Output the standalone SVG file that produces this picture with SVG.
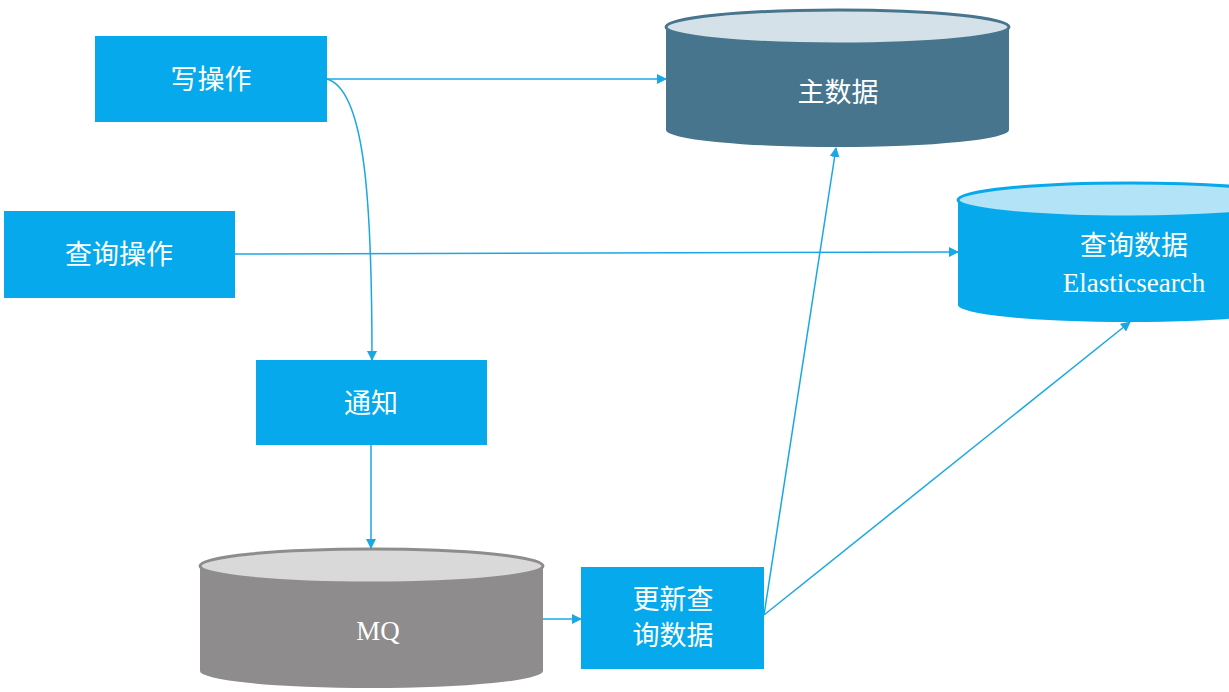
<svg xmlns="http://www.w3.org/2000/svg" width="1229" height="692" viewBox="0 0 1229 692">
<style>
.box{fill:#06A9EC}
.t{font-family:"Liberation Serif","Noto Sans CJK SC",serif;fill:#fff;font-size:27px;text-anchor:middle}
.c{fill:none;stroke:#1AA7E6;stroke-width:1.5;marker-end:url(#a)}
</style>
<defs><marker id="a" markerWidth="10" markerHeight="10" refX="9" refY="5" orient="auto" markerUnits="userSpaceOnUse"><path d="M0,0 L10,5 L0,10 z" fill="#1AA7E6"/></marker></defs>
<rect width="1229" height="692" fill="#fff"/>
<g id="write"><rect class="box" x="95" y="36" width="232" height="86"/><text class="t" x="211" y="89">写操作</text></g>
<g id="query"><rect class="box" x="4" y="211" width="231" height="87"/><text class="t" x="119" y="264">查询操作</text></g>
<g id="notify"><rect class="box" x="256" y="360" width="231" height="85"/><text class="t" x="371" y="413">通知</text></g>
<g id="update"><rect class="box" x="581" y="567" width="183" height="102"/><text class="t" x="673" y="609">更新查</text><text class="t" x="673" y="645">询数据</text></g>
<g id="master"><path d="M666,27 V130 A171.5,17 0 0 0 1009,130 V27 Z" fill="#47758D"/><ellipse cx="837.5" cy="27" rx="171.5" ry="17" fill="#D4E1E8" stroke="#47758D" stroke-width="3"/><text class="t" x="838" y="102">主数据</text></g>
<g id="es"><path d="M958,200 V305 A171.5,17 0 0 0 1301,305 V200 Z" fill="#06A9EC"/><ellipse cx="1129.5" cy="200" rx="171.5" ry="17" fill="#B3E3F6" stroke="#06A9EC" stroke-width="3"/><text class="t" x="1134" y="255">查询数据</text><text class="t" x="1134" y="292">Elasticsearch</text></g>
<g id="mq"><path d="M200,566 V671 A171.5,17 0 0 0 543,671 V566 Z" fill="#8E8C8C"/><ellipse cx="371.5" cy="566" rx="171.5" ry="17" fill="#D9D9D9" stroke="#8E8C8C" stroke-width="3"/><text class="t" x="378" y="640">MQ</text></g>
<g id="connectors">
<path class="c" d="M327,79 H666"/>
<path class="c" d="M327,79 C365,90 372,200 372,360"/>
<path class="c" d="M235,254 L958,252"/>
<path class="c" d="M371,445 V548"/>
<path class="c" d="M543,619 H581"/>
<path class="c" d="M764,615 L836,148"/>
<path class="c" d="M764,615 L1130,322"/>
</g>
</svg>
